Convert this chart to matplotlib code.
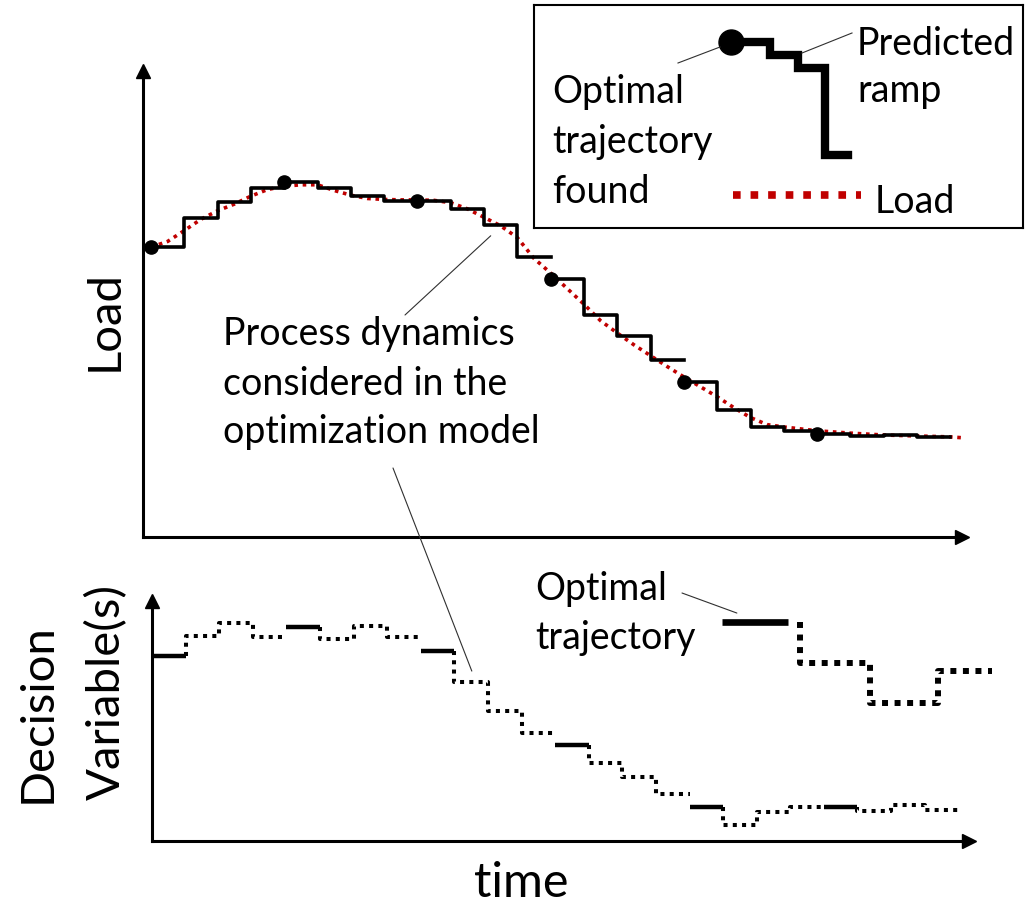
import matplotlib.pyplot as plt

plt.rcParams['font.family'] = ['Lato', 'DejaVu Sans']

# ---- data (time in control steps, values in arbitrary units 0-100) ----
block_len = 4
# predicted load ramp of every optimisation block (first value = optimal point found)
ramp_blocks = [
    [61.4, 67.6, 71.0, 73.9],
    [75.2, 73.9, 72.2, 71.2],
    [71.2, 69.5, 66.1, 59.3],
    [54.7, 47.0, 42.6, 37.5],
    [32.8, 26.9, 23.3, 22.5],
    [21.8, 21.4, 21.5, 21.2],
]
load_t = [0, 0.5, 1, 1.5, 2, 2.5, 3, 3.5, 4, 4.5, 5, 5.5, 6, 6.5, 7, 7.5, 8, 8.5,
          9, 9.5, 10, 10.5, 11, 11.5, 12, 12.5, 13, 13.5, 14, 14.5, 15, 15.5, 16,
          16.5, 17, 17.5, 18, 18.5, 19, 19.5, 20, 21, 22, 23, 24, 24.4]
load_v = [61.4, 62.6, 64.9, 67.3, 69.1, 70.5, 72.2, 73.6, 74.3, 74.6, 74.6, 73.4,
          72.4, 71.7, 71.5, 71.4, 71.4, 71.3, 70.8, 69.5, 67.7, 65.9, 63.4, 59.0,
          55.9, 52.6, 49.3, 45.8, 43.2, 40.7, 38.4, 36.1, 33.9, 31.8, 29.7, 27.4,
          25.3, 23.8, 23.3, 22.9, 22.5, 22.0, 21.6, 21.4, 21.2, 21.0]
# decision variable trajectory of every block (first value = implemented)
dv_blocks = [
    [75.2, 83.3, 88.6, 82.9],
    [87.0, 82.1, 87.4, 82.9],
    [77.2, 64.6, 52.8, 43.9],
    [39.0, 31.7, 26.0, 19.1],
    [13.8, 6.5, 11.8, 13.8],
    [13.8, 12.2, 14.6, 12.6],
]
# enlarged example of one optimal trajectory
ex_solid_t = [16.96, 18.93]
ex_t = [19.3, 21.37, 23.39, 25.0]
ex_v = [89.0, 72.4, 56.1, 69.1]
# legend sample (box units)
leg_ramp_x = [197, 236, 236, 264, 264, 291, 291, 314]
leg_ramp_y = [37, 37, 50, 50, 63, 63, 150, 150]
leg_load_x = [199, 327]
leg_load_y = [190, 190]

W, H = 1030, 908
RED = '#C00000'


def fx(x):
    return x / W


def fy(y):
    return 1 - y / H


def box(x0, y0, x1, y1):
    return [fx(x0), fy(y1), fx(x1) - fx(x0), fy(y0) - fy(y1)]


def arrow_axes(ax):
    for s in ['top', 'right']:
        ax.spines[s].set_visible(False)
    for s in ['left', 'bottom']:
        ax.spines[s].set_linewidth(2.2)
    ax.set_xticks([])
    ax.set_yticks([])
    ax.plot(1, 0, '>k', ms=10, transform=ax.transAxes, clip_on=False)
    ax.plot(0, 1, '^k', ms=10, transform=ax.transAxes, clip_on=False)
    ax.patch.set_alpha(0)


fig = plt.figure(figsize=(10.3, 9.08), dpi=100)

# ---- top: load ----
ax1 = fig.add_axes(box(143, 71, 962, 537))
arrow_axes(ax1)
ax1.set_xlim(-0.24, 24.35)
ax1.set_ylim(0, 98.7)
ax1.plot(load_t, load_v, color=RED, lw=2.6, dashes=(1, 1.3), clip_on=False)
for k, blk in enumerate(ramp_blocks):
    t0 = k * block_len
    xs, ys = [t0], [blk[0]]
    for i in range(1, len(blk)):
        xs += [t0 + i, t0 + i]
        ys += [blk[i - 1], blk[i]]
    xs.append(t0 + len(blk))
    ys.append(blk[-1])
    ax1.plot(xs, ys, color='black', lw=2.6)
    ax1.plot(t0, blk[0], 'o', color='black', ms=9.5, clip_on=False)

# ---- bottom: decision variables ----
ax2 = fig.add_axes(box(152, 601, 969, 841))
arrow_axes(ax2)
ax2.set_xlim(0, 24.32)
ax2.set_ylim(0, 97.6)
for k, blk in enumerate(dv_blocks):
    t0 = k * block_len
    ax2.plot([t0, t0 + 1], [blk[0], blk[0]], color='black', lw=3.2,
             solid_capstyle='butt', clip_on=False)
    xs, ys = [t0 + 1], [blk[0]]
    for i in range(1, len(blk)):
        xs += [t0 + i, t0 + i + 1]
        ys += [blk[i], blk[i]]
    ax2.plot(xs, ys, color='black', lw=2.9, dashes=(1, 1.3))

ax2.plot(ex_solid_t, [ex_v[0], ex_v[0]], color='black', lw=4.8,
         solid_capstyle='butt', clip_on=False)
xs, ys = [ex_t[0]], [ex_v[0]]
for i in range(1, len(ex_t)):
    xs += [ex_t[i - 1], ex_t[i]]
    ys += [ex_v[i], ex_v[i]]
ax2.plot(xs, ys, color='black', lw=4.3, dashes=(1, 1.1), clip_on=False)

# ---- axis labels ----
fs_lab = 34
fig.text(fx(105), fy(320), 'Load', rotation=90, ha='center', va='center', fontsize=fs_lab)
fig.text(fx(38), fy(713), 'Decision', rotation=90, ha='center', va='center', fontsize=fs_lab)
fig.text(fx(107), fy(692), 'Variable(s)', rotation=90, ha='center', va='center', fontsize=fs_lab)
fig.text(fx(521), fy(897), 'time', ha='center', va='baseline', fontsize=35)

# ---- annotations ----
fs = 27
for txt, yb in zip(['Process dynamics', 'considered in the', 'optimization model'],
                   [345, 395, 443]):
    fig.text(fx(223), fy(yb), txt, ha='left', va='baseline', fontsize=fs)
for txt, yb in zip(['Optimal', 'trajectory'], [600, 649]):
    fig.text(fx(535), fy(yb), txt, ha='left', va='baseline', fontsize=fs)

lead = dict(arrowstyle='-', lw=0.8, color='#303030', shrinkA=0, shrinkB=0)
ax1.annotate('', xy=(10.2, 63.8), xytext=(fx(405), fy(315)),
             textcoords='figure fraction', arrowprops=lead)
ax2.annotate('', xy=(9.52, 69.1), xytext=(fx(393), fy(468)),
             textcoords='figure fraction', arrowprops=lead, annotation_clip=False)
ax2.annotate('', xy=(17.41, 92.7), xytext=(fx(682), fy(593)),
             textcoords='figure fraction', arrowprops=lead, annotation_clip=False)

# ---- legend box ----
axl = fig.add_axes(box(534, 5, 1023, 228))
axl.set_xlim(0, 489)
axl.set_ylim(223, 0)
axl.set_xticks([])
axl.set_yticks([])
for s in axl.spines.values():
    s.set_linewidth(1.5)
axl.plot(leg_ramp_x, leg_ramp_y, color='black', lw=6, solid_joinstyle='miter')
axl.plot(leg_ramp_x[0], leg_ramp_y[0], 'o', color='black', ms=18)
axl.plot(leg_load_x, leg_load_y, color=RED, lw=5.5, dashes=(1, 1.3))
axl.plot([144, 186], [58, 42], color='#303030', lw=0.8)
axl.plot([268, 318], [48, 28], color='#303030', lw=0.8)
for txt, yb in zip(['Optimal', 'trajectory', 'found'], [98, 148, 198]):
    axl.text(18, yb, txt, ha='left', va='baseline', fontsize=fs)
axl.text(323, 50, 'Predicted', ha='left', va='baseline', fontsize=fs)
axl.text(323, 97, 'ramp', ha='left', va='baseline', fontsize=fs)
axl.text(341, 208, 'Load', ha='left', va='baseline', fontsize=fs)

fig.savefig('out.png', dpi=100)
